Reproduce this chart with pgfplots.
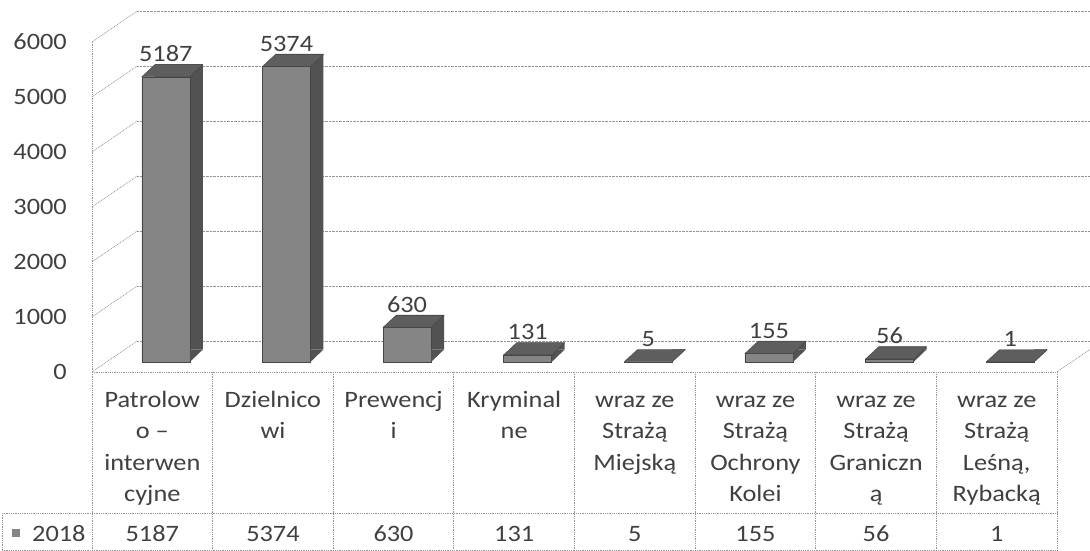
\documentclass[border=0pt]{standalone}
\usepackage{fontspec}
\setmainfont{Carlito}[FakeStretch=1.12]
\usepackage{pgfplots}
\pgfplotsset{compat=1.18}
\usepackage{pgfplotstable}

\definecolor{frontc}{gray}{0.52}
\definecolor{sidec}{gray}{0.32}
\definecolor{topc}{gray}{0.37}
\definecolor{edgec}{gray}{0.27}
\definecolor{gridc}{gray}{0.58}
\definecolor{txtc}{gray}{0.25}

\pgfplotstableread{
x v
0.5 5187
1.5 5374
2.5 630
3.5 131
4.5 5
5.5 155
6.5 56
7.5 1
}\datatab

% top face of a bar (relative to the front top-centre of the bar)
\pgfdeclareplotmark{bartop}{%
  \pgfpathmoveto{\pgfqpoint{-24pt}{0pt}}%
  \pgfpathlineto{\pgfqpoint{24pt}{0pt}}%
  \pgfpathlineto{\pgfqpoint{37pt}{12pt}}%
  \pgfpathlineto{\pgfqpoint{-11pt}{12pt}}%
  \pgfpathclose\pgfusepathqfillstroke}
% lower corner of the side face (relative to the front bottom-centre)
\pgfdeclareplotmark{barfoot}{%
  \pgfpathmoveto{\pgfqpoint{24pt}{0pt}}%
  \pgfpathlineto{\pgfqpoint{24pt}{12.5pt}}%
  \pgfpathlineto{\pgfqpoint{37pt}{12.5pt}}%
  \pgfpathclose\pgfusepathqfill}

\newcommand\fnt{\fontsize{23.5}{31.5}\selectfont}
\newcommand\hs{\rule{0pt}{20pt}}

\tikzset{
  gridline/.style={gridc, densely dotted, line width=0.8pt},
  tline/.style={gridc, densely dotted, line width=0.8pt},
}
\pgfplotsset{
  layer3d/.style={scale only axis, width=965pt, height=330pt,
    xmin=0, xmax=8, ymin=0, ymax=6000, clip=false, anchor=south west},
}

\begin{document}
\begin{tikzpicture}
\path[use as bounding box] (0pt,0pt) rectangle (1090pt,551pt);

% back wall with gridlines
\begin{axis}[scale only axis, width=953pt, height=330pt, xmin=0, xmax=1,
  ymin=0, ymax=6000, at={(137pt,210pt)}, anchor=south west,
  axis line style={draw=none}, xtick=\empty, ytick={0,1000,...,6000},
  yticklabels={}, major tick length=0pt, ymajorgrids,
  grid style={gridc, densely dotted, line width=0.8pt}]
\end{axis}

% front plane: walls, axis, tick labels and data table
\begin{axis}[layer3d, at={(92pt,179pt)},
  axis line style={draw=none}, major tick length=0pt,
  ytick={0,1000,...,6000},
  xtick={0.5,1.5,...,7.5},
  xticklabels={{\hs Patrolow\\o –\\interwen\\cyjne},{\hs Dzielnico\\wi},{\hs Prewencj\\i},{\hs Kryminal\\ne},{\hs wraz ze\\Strażą\\Miejską},{\hs wraz ze\\Strażą\\Ochrony\\Kolei},{\hs wraz ze\\Strażą\\Graniczn\\ą},{\hs wraz ze\\Strażą\\Leśną,\\Rybacką}},
  yticklabel style={font=\fnt, text=txtc, anchor=east, inner sep=0pt, xshift=-25pt},
  xticklabel style={font=\fnt, text=txtc, anchor=north, inner sep=0pt, yshift=-15pt, align=center},
  /pgf/number format/assume math mode=true, /pgf/number format/1000 sep={}]
\pgfplotsinvokeforeach{0,1000,...,6000}{\draw[gridline] (axis cs:0,#1) -- ++(45pt,31pt);}
\draw[gridline] (axis cs:0,0) -- (axis cs:0,6000);
\draw[gridline] (axis cs:8,0) -- ++(33pt,22.7pt);
% table
\draw[tline] (axis cs:0,0) -- (axis cs:8,0);
\pgfplotsinvokeforeach{0,...,8}{\draw[tline] (axis cs:#1,0) -- ++(0pt,-178pt);}
\draw[tline] ([xshift=-90pt,yshift=-141pt]axis cs:0,0) -- ([yshift=-141pt]axis cs:8,0);
\draw[tline] ([xshift=-90pt,yshift=-178pt]axis cs:0,0) -- ([yshift=-178pt]axis cs:8,0);
\draw[tline] ([xshift=-90pt,yshift=-141pt]axis cs:0,0) -- ++(0pt,-37pt);
\node[anchor=base west, inner sep=0pt, font=\fnt, text=txtc] at ([xshift=-80pt,yshift=-170pt]axis cs:0,0) {{\color{frontc}\rule[5pt]{8pt}{8pt}}\hspace{12pt}2018};
\addplot[draw=none, nodes near coords, point meta=explicit symbolic,
  nodes near coords style={font=\fnt, text=txtc, anchor=base, inner sep=0pt, yshift=-170pt}]
  table[x=x, y expr=0, meta=v]{\datatab};
\end{axis}

% side faces (back plane of the bars)
\begin{axis}[layer3d, hide axis, at={(118.5pt,201.5pt)}]
\addplot[ybar, bar width=0.398, bar shift=0pt, fill=sidec, draw=none] table[x=x, y=v]{\datatab};
\end{axis}

% front faces, tops and value labels
\begin{axis}[layer3d, hide axis, at={(105.5pt,189pt)}]
\addplot[only marks, mark=barfoot, mark options={fill=sidec}] table[x=x, y expr=0]{\datatab};
\addplot[ybar, bar width=0.398, bar shift=0pt, fill=frontc, draw=edgec, line width=0.4pt] table[x=x, y=v]{\datatab};
\addplot[only marks, mark=bartop, mark options={fill=topc, draw=edgec, line width=0.4pt}] table[x=x, y=v]{\datatab};
\addplot[draw=none, nodes near coords, point meta=explicit symbolic,
  nodes near coords style={font=\fnt, text=txtc, anchor=base, inner sep=0pt, yshift=15pt}]
  table[x=x, y=v, meta=v]{\datatab};
\end{axis}
\end{tikzpicture}
\end{document}
